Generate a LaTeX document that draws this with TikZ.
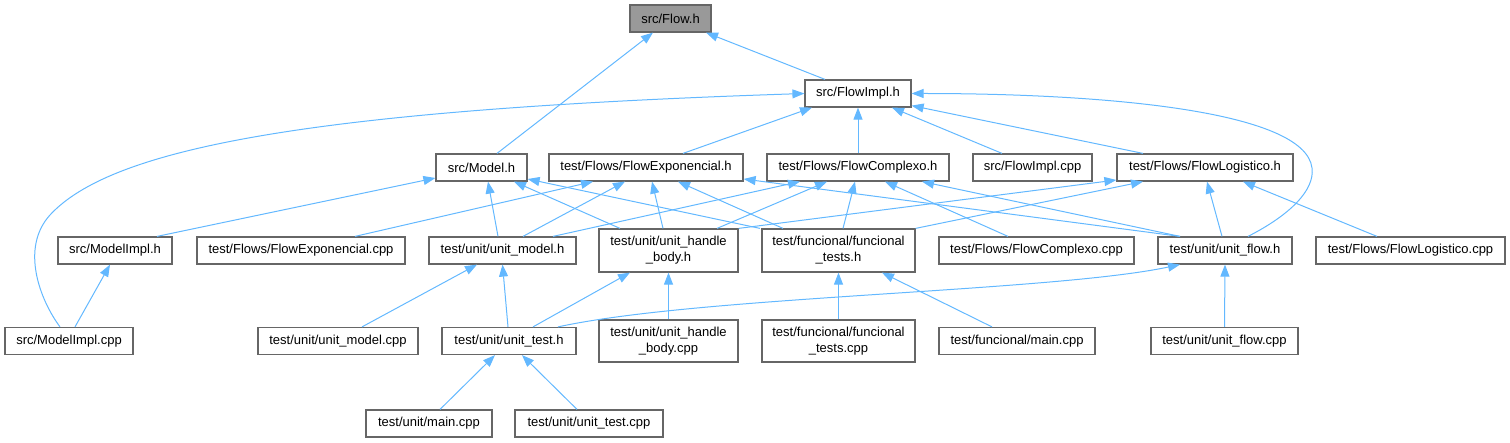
\documentclass[tikz,border=0pt]{standalone}
\usepackage{fontspec}
\setmainfont{Liberation Sans}
\usetikzlibrary{arrows.meta}
\definecolor{edgeblue}{RGB}{99,184,255}
\definecolor{boxgray}{RGB}{102,102,102}
\definecolor{fillgray}{RGB}{153,153,153}
\begin{document}
\begin{tikzpicture}[x=1pt,y=-1pt,
 box/.style={draw=boxgray, line width=1.2pt, fill=white, inner sep=0pt, minimum height=27pt, font=\fontsize{13}{16}\selectfont, align=center},
 box2/.style={box, minimum height=43pt},
 dep/.style={draw=edgeblue, line width=1pt, -{Triangle[length=12pt,width=9pt]}},
]
\useasboundingbox (0,0) rectangle (1510,443);
% nodes
\node[box, fill=fillgray, minimum width=81pt] (fh) at (670.5,18.5) {src/Flow.h};
\node[box, minimum width=106pt] (fih) at (858,93.5) {src/FlowImpl.h};
\node[box, minimum width=91pt] (mh) at (481.5,167.5) {src/Model.h};
\node[box, minimum width=194pt] (feh) at (646,167.5) {test/Flows/FlowExponencial.h};
\node[box, minimum width=182pt] (fch) at (858,167.5) {test/Flows/FlowComplexo.h};
\node[box, minimum width=119pt] (ficpp) at (1032.5,167.5) {src/FlowImpl.cpp};
\node[box, minimum width=176pt] (flh) at (1205,167.5) {test/Flows/FlowLogistico.h};
\node[box, minimum width=114pt] (mih) at (115,250.5) {src/ModelImpl.h};
\node[box, minimum width=208pt] (fecpp) at (301,250.5) {test/Flows/FlowExponencial.cpp};
\node[box, minimum width=147pt] (umh) at (502.5,250.5) {test/unit/unit\_model.h};
\node[box2, minimum width=139pt] (uhbh) at (668.5,250.5) {test/unit/unit\_handle\\\_body.h};
\node[box2, minimum width=153pt] (fth) at (838.5,250.5) {test/funcional/funcional\\\_tests.h};
\node[box, minimum width=195pt] (fccpp) at (1036.5,250.5) {test/Flows/FlowComplexo.cpp};
\node[box, minimum width=134pt] (ufh) at (1225,250.5) {test/unit/unit\_flow.h};
\node[box, minimum width=189pt] (flcpp) at (1410.5,250.5) {test/Flows/FlowLogistico.cpp};
\node[box, minimum width=128pt] (micpp) at (69,341) {src/ModelImpl.cpp};
\node[box, minimum width=160pt] (umcpp) at (338,341) {test/unit/unit\_model.cpp};
\node[box, minimum width=134pt] (uth) at (509,341) {test/unit/unit\_test.h};
\node[box2, minimum width=139pt, minimum height=42pt] (uhbcpp) at (668.5,341) {test/unit/unit\_handle\\\_body.cpp};
\node[box2, minimum width=153pt, minimum height=42pt] (ftcpp) at (838.5,341) {test/funcional/funcional\\\_tests.cpp};
\node[box, minimum width=156pt] (fmcpp) at (1017,341) {test/funcional/main.cpp};
\node[box, minimum width=147pt] (ufcpp) at (1224.5,341) {test/unit/unit\_flow.cpp};
\node[box, minimum width=126pt] (umain) at (429,423.5) {test/unit/main.cpp};
\node[box, minimum width=148pt] (utcpp) at (589,423.5) {test/unit/unit\_test.cpp};
% edges
\draw[dep] ([xshift=15.5pt]mh.north) -- ([xshift=-17.5pt]fh.south);
\draw[dep] ([xshift=-33pt]fih.north) -- ([xshift=35.5pt]fh.south);
\draw[dep] ([xshift=-9pt]micpp.north) .. controls (40,300) and (20,248) .. (50,215) .. controls (110,150) and (300,110) .. (fih.west);
\draw[dep] ([xshift=37pt]feh.north) -- ([xshift=-46pt]fih.south);
\draw[dep] (fch.north) -- (fih.south);
\draw[dep] ([xshift=-30.5pt]ficpp.north) -- ([xshift=34pt]fih.south);
\draw[dep] ([xshift=-62pt]flh.north) -- ([yshift=2pt]fih.south east);
\draw[dep] ([xshift=23pt]ufh.north) .. controls (1290,215) and (1315,190) .. (1312,168) .. controls (1305,110) and (1100,93.5) .. (fih.east);
\draw[dep] ([xshift=42pt]mih.north) -- ([yshift=-10.5pt]mh.west);
\draw[dep] ([xshift=-4.5pt]umh.north) -- ([xshift=6.5pt]mh.south);
\draw[dep] ([xshift=-48.5pt]uhbh.north) -- ([xshift=32.5pt]mh.south);
\draw[dep] ([xshift=-78.5pt]fth.north) -- ([yshift=-11.5pt]mh.east);
\draw[dep] ([xshift=54pt]fecpp.north) -- ([xshift=-53pt]feh.south);
\draw[dep] ([xshift=20.5pt]umh.north) -- ([xshift=-21pt]feh.south);
\draw[dep] ([xshift=-5.5pt]uhbh.north) -- ([xshift=6pt]feh.south);
\draw[dep] ([xshift=-55.5pt]fth.north) -- ([xshift=32pt]feh.south);
\draw[dep] ([xshift=-45pt]ufh.north) -- ([yshift=-11.5pt]feh.east);
\draw[dep] ([xshift=50.5pt]umh.north) -- ([xshift=-58pt]fch.south);
\draw[dep] ([xshift=48.5pt]uhbh.north) -- ([xshift=-31pt]fch.south);
\draw[dep] ([xshift=4.5pt]fth.north) -- ([xshift=-3pt]fch.south);
\draw[dep] ([xshift=-28.5pt]fccpp.north) -- ([xshift=27pt]fch.south);
\draw[dep] ([xshift=-45pt]ufh.north) -- ([xshift=64pt]fch.south);
\draw[dep] (uhbh.north east) -- ([yshift=-12.5pt]flh.west);
\draw[dep] (fth.north east) -- ([xshift=-62pt]flh.south);
\draw[dep] ([xshift=-3pt]ufh.north) -- ([xshift=2pt]flh.south);
\draw[dep] ([xshift=-33.5pt]flcpp.north) -- ([xshift=38pt]flh.south);
\draw[dep] ([xshift=6pt]micpp.north) -- ([xshift=-5pt]mih.south);
\draw[dep] ([xshift=24pt]umcpp.north) -- ([xshift=-25.5pt]umh.south);
\draw[dep] ([xshift=-1pt]uth.north) -- (umh.south);
\draw[dep] ([xshift=24pt]uth.north) -- ([xshift=-38.5pt]uhbh.south);
\draw[dep] (uhbcpp.north) -- (uhbh.south);
\draw[dep] (ftcpp.north) -- (fth.south);
\draw[dep] ([xshift=-25pt]fmcpp.north) -- ([xshift=43.5pt]fth.south);
\draw[dep] ([xshift=49pt]uth.north) .. controls (700,296) and (1050,292) .. ([xshift=-45pt]ufh.south);
\draw[dep] (ufcpp.north) -- (ufh.south);
\draw[dep] ([xshift=11pt]umain.north) -- ([xshift=-14pt]uth.south);
\draw[dep] ([xshift=-12pt]utcpp.north) -- ([xshift=13pt]uth.south);
\end{tikzpicture}
\end{document}
